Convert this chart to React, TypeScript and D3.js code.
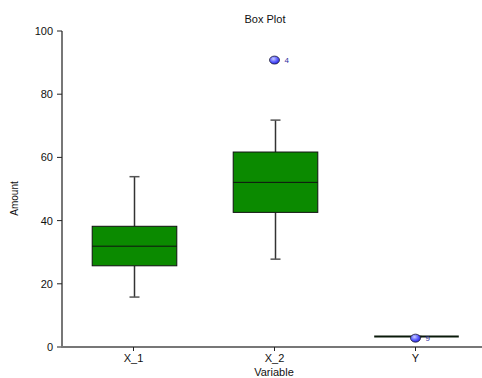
import React from "react";
import * as d3 from "d3";

const categories = ["X_1", "X_2", "Y"];
const q1 = [25.7, 42.6, 3.3];
const median = [31.9, 52.1, 3.3];
const q3 = [38.2, 61.7, 3.3];
const whiskerLow = [15.8, 27.8, 3.3];
const whiskerHigh = [53.9, 71.8, 3.3];
const outlierCat = ["X_2", "Y"];
const outlierValue = [90.8, 2.8];
const outlierLabel = ["4", "9"];
const yTicks = [0, 20, 40, 60, 80, 100];

const W = 482, H = 378;
const left = 62, right = 486, top = 31, bottom = 347;

export default function App() {
  const x = d3.scaleBand<string>().domain(categories).range([left + 1, right]).padding(0);
  const y = d3.scaleLinear().domain([0, 100]).range([bottom, top]);
  const bw = x.bandwidth() * 0.6;
  const font = "'Liberation Sans', Arial, sans-serif";
  return (
    <svg width={W} height={H} style={{ position: "absolute", left: 0, top: 0 }} fontFamily={font}>
      <defs>
        <radialGradient id="og" cx="40%" cy="35%" r="65%">
          <stop offset="0%" stopColor="#c8ccff" />
          <stop offset="60%" stopColor="#5a5cff" />
          <stop offset="100%" stopColor="#2a2ae0" />
        </radialGradient>
      </defs>
      <rect width={W} height={H} fill="#fff" />
      <text x={265} y={23} textAnchor="middle" fontSize={11} fill="#111">Box Plot</text>
      {/* y axis */}
      <line x1={left} x2={left} y1={top} y2={bottom + 1} stroke="#777" strokeWidth={2} />
      {yTicks.map((t) => (
        <g key={t}>
          <line x1={left - 5} x2={left} y1={y(t)} y2={y(t)} stroke="#222" strokeWidth={1} />
          <text x={left - 9} y={y(t) + 4} textAnchor="end" fontSize={11} fill="#111">{t}</text>
        </g>
      ))}
      {/* x axis */}
      <line x1={left - 1} x2={W} y1={bottom} y2={bottom} stroke="#777" strokeWidth={2} />
      {categories.map((c) => {
        const cx = x(c)! + x.bandwidth() / 2;
        return (
          <g key={c}>
            <line x1={cx} x2={cx} y1={bottom} y2={bottom + 4} stroke="#222" strokeWidth={1} />
            <text x={cx} y={bottom + 15} textAnchor="middle" fontSize={11} fill="#111">{c}</text>
          </g>
        );
      })}
      <text x={274} y={376} textAnchor="middle" fontSize={11} fill="#111">Variable</text>
      <text transform={`translate(18,${y(47)}) rotate(-90)`} textAnchor="middle" fontSize={10} fill="#111" style={{ fontStretch: "condensed" }}>Amount</text>
      {/* boxes */}
      {categories.map((c, i) => {
        const cx = Math.round(x(c)! + x.bandwidth() / 2) + 0.5;
        const x0 = cx - bw / 2;
        const flat = q3[i] - q1[i] < 0.01;
        return (
          <g key={c}>
            <line x1={cx} x2={cx} y1={y(whiskerHigh[i])} y2={y(q3[i])} stroke="#333" strokeWidth={1.5} />
            <line x1={cx} x2={cx} y1={y(q1[i])} y2={y(whiskerLow[i])} stroke="#333" strokeWidth={1.5} />
            <line x1={cx - 5} x2={cx + 5} y1={y(whiskerHigh[i])} y2={y(whiskerHigh[i])} stroke="#555" strokeWidth={1.5} />
            <line x1={cx - 5} x2={cx + 5} y1={y(whiskerLow[i])} y2={y(whiskerLow[i])} stroke="#555" strokeWidth={1.5} />
            {flat ? (
              <line x1={x0} x2={x0 + bw} y1={y(median[i])} y2={y(median[i])} stroke="#0a1a0a" strokeWidth={2} />
            ) : (
              <>
                <rect x={x0} y={y(q3[i])} width={bw} height={y(q1[i]) - y(q3[i])} fill="#0b8a00" stroke="#111" strokeWidth={1} />
                <line x1={x0} x2={x0 + bw} y1={y(median[i])} y2={y(median[i])} stroke="#111" strokeWidth={1} />
              </>
            )}
          </g>
        );
      })}
      {/* outliers */}
      {outlierCat.map((c, i) => {
        const cx = x(c)! + x.bandwidth() / 2;
        const cy = y(outlierValue[i]);
        return (
          <g key={i}>
            <ellipse cx={cx} cy={cy} rx={5} ry={4} fill="url(#og)" stroke="#223" strokeWidth={0.8} />
            <text x={cx + 10} y={cy + 3} fontSize={8} fill="#3030a0">{outlierLabel[i]}</text>
          </g>
        );
      })}
    </svg>
  );
}
